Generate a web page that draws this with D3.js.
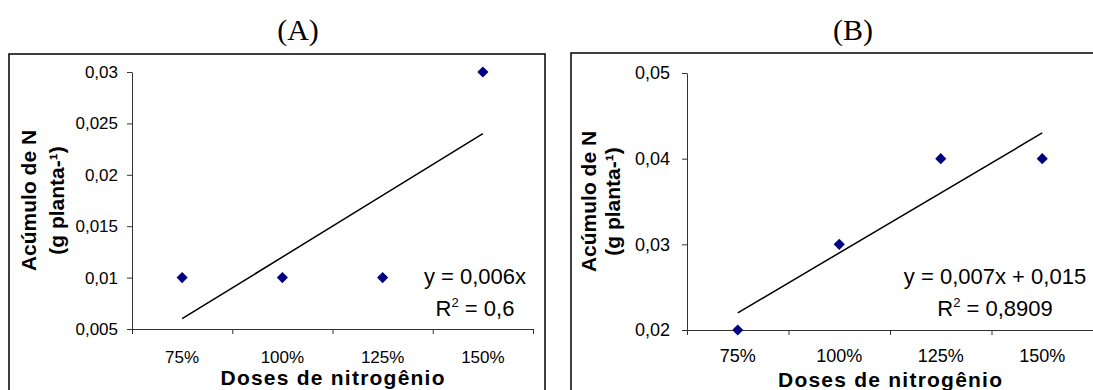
<!DOCTYPE html>
<html lang="pt">
<head>
	<meta charset="UTF-8">
	<title>Acúmulo de N</title>
	<script src="https://cdn.jsdelivr.net/npm/d3@7/dist/d3.min.js"></script>
	<style>
		body { margin: 0; background: #fff; }
		svg text { font-family: "Liberation Sans", Arial, sans-serif; }
	</style>
</head>
<body>
<div id="viz"></div>
<script>
	// doses (categorias do eixo x)
	var doses = ['75%', '100%', '125%', '150%'];

	// valores medidos
	var valuesA = [0.01, 0.01, 0.01, 0.03];
	var valuesB = [0.02, 0.03, 0.04, 0.04];

	// linha de tendencia: valor no primeiro e no ultimo ponto
	var trendA = [0.006, 0.024];
	var trendB = [0.022, 0.043];

	var ticksA = [0.005, 0.01, 0.015, 0.02, 0.025, 0.03];
	var ticksB = [0.02, 0.03, 0.04, 0.05];

	var eqA = ['y = 0,006x', '0,6'];
	var eqB = ['y = 0,007x + 0,015', '0,8909'];

	var pt = d3.formatLocale({decimal: ',', thousands: '.', grouping: [3], currency: ['', '']});

	var svg = d3.select('#viz').append('svg')
		.attr('width', 1093)
		.attr('height', 390);

	function panel(cfg) {
		var g = svg.append('g');

		// moldura
		g.append('rect')
			.attr('x', cfg.frame[0]).attr('y', cfg.frame[1])
			.attr('width', cfg.frame[2]).attr('height', cfg.frame[3])
			.attr('fill', 'none').attr('stroke', '#000').attr('stroke-width', 1.5);

		g.append('text')
			.attr('x', cfg.titleX).attr('y', 40)
			.attr('text-anchor', 'middle')
			.style('font-family', '"Liberation Serif", "Times New Roman", serif')
			.style('font-size', '30px')
			.text(cfg.title);

		var x = d3.scaleBand().domain(doses).range([cfg.left, cfg.right]).padding(0);
		var xi = d3.scaleLinear().domain([0, doses.length]).range([cfg.left, cfg.right]);
		var y = d3.scaleLinear().domain(d3.extent(cfg.ticks)).range([cfg.bottom, cfg.top]);

		g.append('g')
			.attr('transform', 'translate(' + cfg.left + ',0)')
			.call(d3.axisLeft(y).tickValues(cfg.ticks).tickFormat(pt.format(cfg.fmt))
				.tickSize(5).tickSizeOuter(0).tickPadding(cfg.yPad));

		g.append('g')
			.attr('transform', 'translate(0,' + cfg.bottom + ')')
			.call(d3.axisBottom(xi).tickValues(d3.range(doses.length + 1)).tickFormat('')
				.tickSize(5).tickSizeOuter(0));

		var gl = g.append('g')
			.attr('transform', 'translate(0,' + cfg.bottom + ')')
			.call(d3.axisBottom(x).tickSize(0).tickPadding(cfg.xPad));
		gl.select('.domain').remove();

		g.selectAll('.domain, .tick line').attr('stroke', '#333');
		g.selectAll('.tick text')
			.style('font-family', '"Liberation Sans", Arial, sans-serif')
			.style('font-size', cfg.tickFont).attr('fill', '#000');

		// linha de tendencia
		var cx = function (i) { return x(doses[i]) + x.bandwidth() / 2; };
		g.append('line')
			.attr('x1', cx(0)).attr('y1', y(cfg.trend[0]))
			.attr('x2', cx(doses.length - 1)).attr('y2', y(cfg.trend[1]))
			.attr('stroke', '#000').attr('stroke-width', 1.5);

		g.selectAll('.pt')
			.data(cfg.values)
			.enter().append('path')
			.attr('class', 'pt')
			.attr('d', d3.symbol(d3.symbolSquare, 62))
			.attr('transform', function (d, i) {
				return 'translate(' + cx(i) + ',' + y(d) + ') rotate(45)';
			})
			.attr('fill', '#000080');

		// equacao
		var eq = g.append('text')
			.attr('text-anchor', 'middle')
			.style('font-size', '22px');
		eq.append('tspan').attr('x', cfg.eqX).attr('y', 284).text(cfg.eq[0]);
		var l2 = eq.append('tspan').attr('x', cfg.eqX).attr('y', 316);
		l2.append('tspan').text('R');
		l2.append('tspan').attr('dy', -9).style('font-size', '13px').text('2');
		l2.append('tspan').attr('dy', 9).text(' = ' + cfg.eq[1]);

		// titulos dos eixos
		g.append('text')
			.attr('x', (cfg.left + cfg.right) / 2).attr('y', cfg.xTitleY)
			.attr('text-anchor', 'middle')
			.attr('textLength', 224).attr('lengthAdjust', 'spacing')
			.style('font-weight', 'bold').style('font-size', '21px')
			.text('Doses de nitrogênio');

		var yt = g.append('text')
			.attr('transform', 'translate(' + cfg.yTitleX + ',' + ((cfg.top + cfg.bottom) / 2) + ') rotate(-90)')
			.attr('text-anchor', 'middle')
			.style('font-weight', 'bold').style('font-size', '21px');
		yt.append('tspan').attr('x', 0).attr('y', 0).text('Acúmulo de N');
		yt.append('tspan').attr('x', 0).attr('y', cfg.yTitleGap).text('(g planta-¹)');
	}

	panel({
		title: '(A)', titleX: 298,
		frame: [9, 54, 536, 345],
		left: 132, right: 533, top: 72, bottom: 329,
		ticks: ticksA, fmt: '.3~f', yPad: 9, xPad: 22, tickFont: '17px',
		values: valuesA, trend: trendA,
		eq: eqA, eqX: 475,
		xTitleY: 385, yTitleX: 36, yTitleGap: 28
	});

	panel({
		title: '(B)', titleX: 853,
		frame: [571, 53, 530, 345],
		left: 687, right: 1093, top: 73, bottom: 330,
		ticks: ticksB, fmt: '.2~f', yPad: 12, xPad: 19, tickFont: '18px',
		values: valuesB, trend: trendB,
		eq: eqB, eqX: 995,
		xTitleY: 387, yTitleX: 596, yTitleGap: 24
	});
</script>
</body>
</html>
